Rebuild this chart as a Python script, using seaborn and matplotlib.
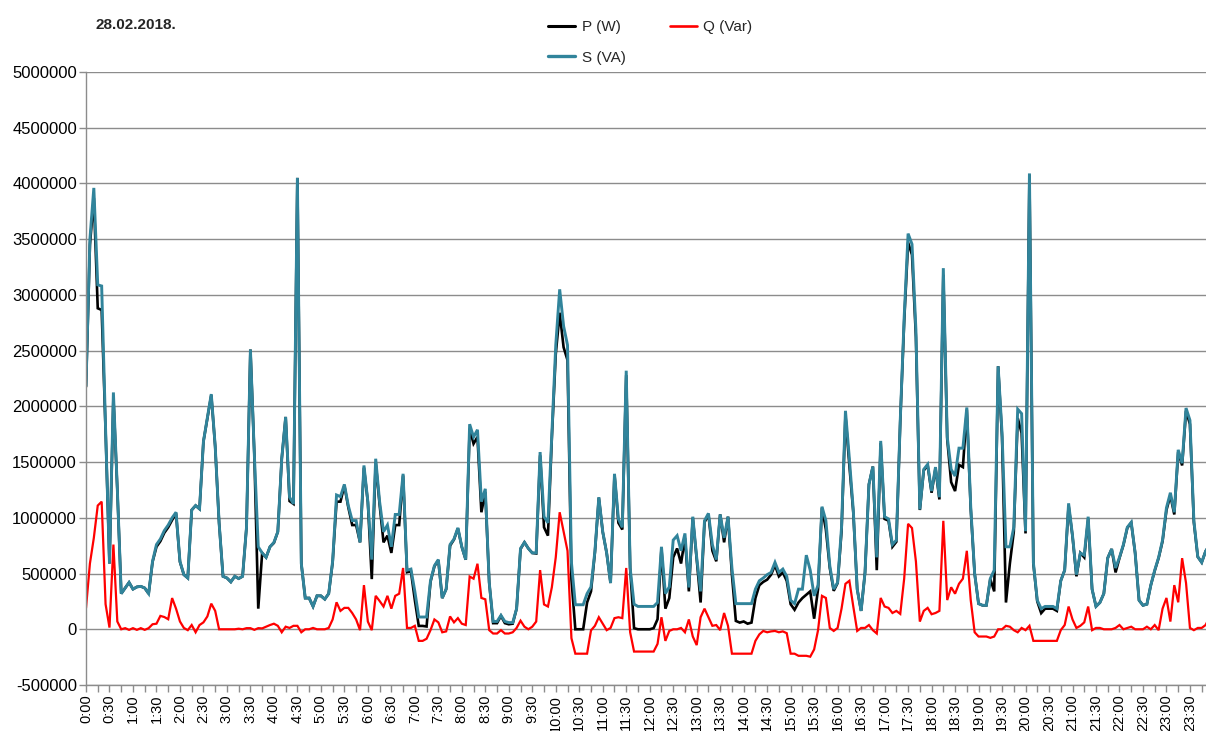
import numpy as np
import pandas as pd
import matplotlib
matplotlib.use("Agg")
import matplotlib.pyplot as plt
from matplotlib.lines import Line2D
from matplotlib.ticker import FuncFormatter
import seaborn as sns

DATE_LABEL = "28.02.2018."

# 5-minute readings for the day, in thousands (kW / kVAr / kVA)
P_K = [
    2175, 3450, 3870, 2880, 2865, 1785, 590, 2080, 1255, 320, 370, 420,
    360, 380, 385, 370, 320, 605, 740, 790, 865, 915, 980, 1040,
    605, 490, 460, 1070, 1110, 1080, 1685, 1890, 2100, 1640, 955, 475,
    460, 425, 475, 455, 475, 915, 2510, 1570, 185, 685, 645, 740,
    775, 875, 1530, 1905, 1150, 1125, 4050, 590, 280, 280, 205, 300,
    300, 270, 320, 600, 1145, 1145, 1290, 1095, 935, 935, 780, 1450,
    1140, 450, 1500, 1120, 780, 840, 685, 935, 935, 1380, 512, 520,
    262, 30, 30, 25, 425, 565, 620, 280, 360, 750, 805, 905,
    738, 624, 1800, 1665, 1725, 1050, 1230, 420, 55, 55, 120, 55,
    45, 50, 185, 720, 780, 725, 685, 680, 1560, 915, 840, 1720,
    2470, 2840, 2530, 2415, 450, 0, 0, 0, 240, 340, 690, 1180,
    873, 685, 415, 1390, 955, 895, 2280, 550, 10, 0, 0, 0,
    0, 10, 90, 725, 185, 280, 645, 725, 590, 820, 340, 1000,
    630, 240, 960, 1030, 705, 610, 1030, 780, 1010, 490, 75, 60,
    70, 50, 60, 280, 395, 425, 445, 490, 575, 475, 510, 435,
    225, 175, 240, 280, 310, 340, 95, 360, 1090, 895, 550, 345,
    415, 880, 1920, 1470, 1050, 360, 165, 510, 1300, 1460, 530, 1670,
    990, 975, 740, 785, 1870, 2760, 3470, 3360, 2620, 1070, 1425, 1470,
    1225, 1445, 1165, 3180, 1705, 1320, 1240, 1475, 1455, 1970, 1080, 500,
    230, 215, 215, 450, 340, 2360, 1725, 240, 590, 875, 1895, 1760,
    860, 4080, 590, 250, 145, 185, 185, 185, 165, 435, 530, 1110,
    835, 475, 685, 645, 990, 360, 205, 240, 320, 640, 720, 510,
    640, 755, 910, 955, 685, 260, 215, 225, 395, 525, 640, 790,
    1070, 1200, 1030, 1590, 1470, 1960, 1840, 960, 650, 600, 700, 755,
]

Q_K = [
    190, 590, 820, 1110, 1145, 225, 15, 760, 70, 0, 10, -5,
    10, -5, 10, -5, 10, 45, 50, 120, 110, 90, 280, 185,
    70, 12, -8, 38, -27, 38, 62, 115, 230, 165, 0, 0,
    0, 0, 0, 5, 0, 10, 10, -5, 10, 8, 23, 38,
    50, 31, -27, 23, 12, 31, 31, -27, 0, 0, 12, 0,
    0, 0, 12, 88, 242, 165, 192, 192, 146, 88, -8, 396,
    69, -8, 300, 254, 204, 300, 185, 300, 319, 550, 12, 12,
    31, -104, -104, -85, -8, 88, 62, -27, -19, 115, 62, 100,
    50, 38, 473, 454, 588, 281, 269, -8, -38, -38, -8, -38,
    -38, -27, 12, 77, 23, 0, 23, 69, 531, 223, 204, 377,
    646, 1050, 877, 704, -80, -219, -219, -219, -219, -10, 31, 108,
    50, -8, 12, 100, 108, 100, 550, -27, -200, -200, -200, -200,
    -200, -200, -131, 108, -104, -15, 0, 0, 12, -27, 88, -65,
    -142, 108, 185, 108, 31, 38, -8, 146, 31, -219, -219, -219,
    -219, -219, -219, -104, -46, -15, -27, -19, -15, -27, -19, -35,
    -219, -219, -238, -238, -238, -246, -181, -8, 300, 281, 12, -15,
    12, 185, 408, 435, 204, -15, 12, 12, 38, -8, -38, 281,
    204, 192, 146, 165, 138, 454, 946, 908, 608, 69, 165, 192,
    135, 146, 165, 973, 262, 377, 319, 408, 454, 704, 262, -27,
    -65, -65, -65, -77, -65, 0, 0, 31, 23, -8, -27, 12,
    -8, 31, -104, -104, -104, -104, -104, -104, -104, -8, 38, 204,
    88, 12, 31, 62, 204, -8, 12, 12, 0, 0, 0, 12,
    38, 0, 12, 23, 0, 0, 0, 23, 0, 38, -8, 185,
    281, 69, 396, 242, 638, 415, 12, -8, 12, 12, 38, 108,
]

S_K = [
    2185, 3500, 3960, 3090, 3080, 1800, 590, 2125, 1260, 320, 370, 420,
    360, 380, 385, 370, 320, 610, 760, 810, 885, 935, 1000, 1050,
    610, 490, 460, 1070, 1110, 1080, 1685, 1895, 2110, 1645, 955, 475,
    460, 425, 475, 455, 475, 915, 2510, 1570, 740, 685, 645, 740,
    780, 875, 1530, 1905, 1185, 1125, 4050, 590, 280, 280, 205, 300,
    300, 270, 320, 610, 1205, 1190, 1300, 1110, 975, 975, 780, 1470,
    1145, 625, 1530, 1145, 875, 935, 740, 1030, 1030, 1395, 530, 540,
    340, 110, 110, 110, 435, 570, 625, 280, 360, 760, 810, 910,
    740, 625, 1840, 1725, 1790, 1145, 1260, 420, 70, 70, 125, 70,
    60, 60, 185, 725, 780, 725, 685, 685, 1590, 1010, 955, 1760,
    2550, 3050, 2720, 2550, 600, 220, 220, 220, 320, 380, 700, 1185,
    875, 685, 415, 1395, 990, 915, 2320, 550, 225, 205, 205, 205,
    205, 205, 240, 740, 320, 380, 800, 840, 705, 860, 375, 1010,
    645, 340, 975, 1040, 760, 625, 1030, 820, 1010, 550, 230, 230,
    230, 230, 230, 360, 435, 460, 490, 510, 600, 510, 540, 475,
    260, 230, 360, 360, 665, 530, 300, 395, 1100, 975, 570, 360,
    420, 915, 1960, 1530, 1070, 360, 165, 510, 1300, 1460, 645, 1690,
    1010, 990, 760, 800, 1875, 2800, 3550, 3455, 2685, 1075, 1435, 1480,
    1240, 1455, 1185, 3240, 1725, 1435, 1375, 1625, 1625, 1990, 1100, 500,
    230, 215, 215, 455, 530, 2360, 1760, 740, 740, 915, 1975, 1935,
    880, 4090, 600, 260, 185, 205, 205, 205, 185, 435, 530, 1130,
    840, 490, 685, 665, 1010, 360, 205, 240, 320, 640, 720, 550,
    645, 760, 915, 960, 685, 260, 215, 225, 395, 530, 645, 800,
    1090, 1225, 1050, 1610, 1490, 1985, 1875, 975, 650, 600, 700, 760,
]

TIME_LABELS = [f"{h}:{m:02d}" for h in range(24) for m in (0, 30)]
Y_TICKS = list(range(-500000, 5000001, 500000))

SERIES = ["P (W)", "Q (Var)", "S (VA)"]
COLORS = {"P (W)": "#000000", "Q (Var)": "#FF0000", "S (VA)": "#31849B"}
WIDTHS = {"P (W)": 1.9, "Q (Var)": 1.6, "S (VA)": 2.1}

df = pd.DataFrame({
    "step": np.arange(len(S_K)),
    "P (W)": np.array(P_K) * 1000,
    "Q (Var)": np.array(Q_K) * 1000,
    "S (VA)": np.array(S_K) * 1000,
})
long_df = df.melt(id_vars="step", var_name="series", value_name="value")

sns.set_style("white")
plt.rcParams["font.family"] = ["Liberation Sans", "DejaVu Sans"]

W, H = 1206, 731
fig = plt.figure(figsize=(W / 100, H / 100), dpi=100)
ax = fig.add_axes([86 / W, (H - 685) / H, (W - 86) / W, (685 - 72) / H])

for name in SERIES:
    sns.lineplot(
        data=long_df[long_df["series"] == name], x="step", y="value",
        color=COLORS[name], linewidth=WIDTHS[name], ax=ax,
        solid_joinstyle="miter", legend=False,
    )

ax.set_xlim(0, 286.1)
ax.set_ylim(-500000, 5000000)
ax.set_xlabel("")
ax.set_ylabel("")

grid_c = "#8C8C8C"
ax.set_yticks(Y_TICKS)
ax.yaxis.set_major_formatter(FuncFormatter(lambda v, _: f"{int(round(v))}"))
ax.yaxis.grid(True, color=grid_c, linewidth=1.0)
ax.xaxis.grid(False)
ax.set_axisbelow(True)

xt = list(range(0, 288, 3))
ax.set_xticks(xt)
ax.set_xticklabels([TIME_LABELS[i // 6] if i % 6 == 0 else "" for i in xt],
                   rotation=90)

for side in ("top", "right"):
    ax.spines[side].set_visible(False)
for side in ("left", "bottom"):
    ax.spines[side].set_color(grid_c)
    ax.spines[side].set_linewidth(1.0)

ax.tick_params(axis="both", which="major", direction="out", length=5,
               width=1.0, color=grid_c, labelcolor="black",
               left=True, bottom=True)
ax.tick_params(axis="x", pad=2, labelsize=10.5)
ax.tick_params(axis="y", pad=1.5, labelsize=12)

fig.text(95 / W, 1 - 25 / H, DATE_LABEL, fontsize=11, fontweight="bold",
         va="center", ha="left")

handles = [Line2D([], [], color=COLORS[n], linewidth=WIDTHS[n] + 0.3) for n in
           ("P (W)", "S (VA)", "Q (Var)")]
labels = ["P (W)", "S (VA)", "Q (Var)"]
fig.legend(handles, labels, ncol=2, frameon=False, loc="upper left",
           bbox_to_anchor=(548 / W, 1 - 20 / H), fontsize=11,
           handlelength=1.75, handletextpad=0.45, columnspacing=2.9,
           labelspacing=1.1, borderaxespad=0, borderpad=0)

fig.savefig("out.png", dpi=100)
